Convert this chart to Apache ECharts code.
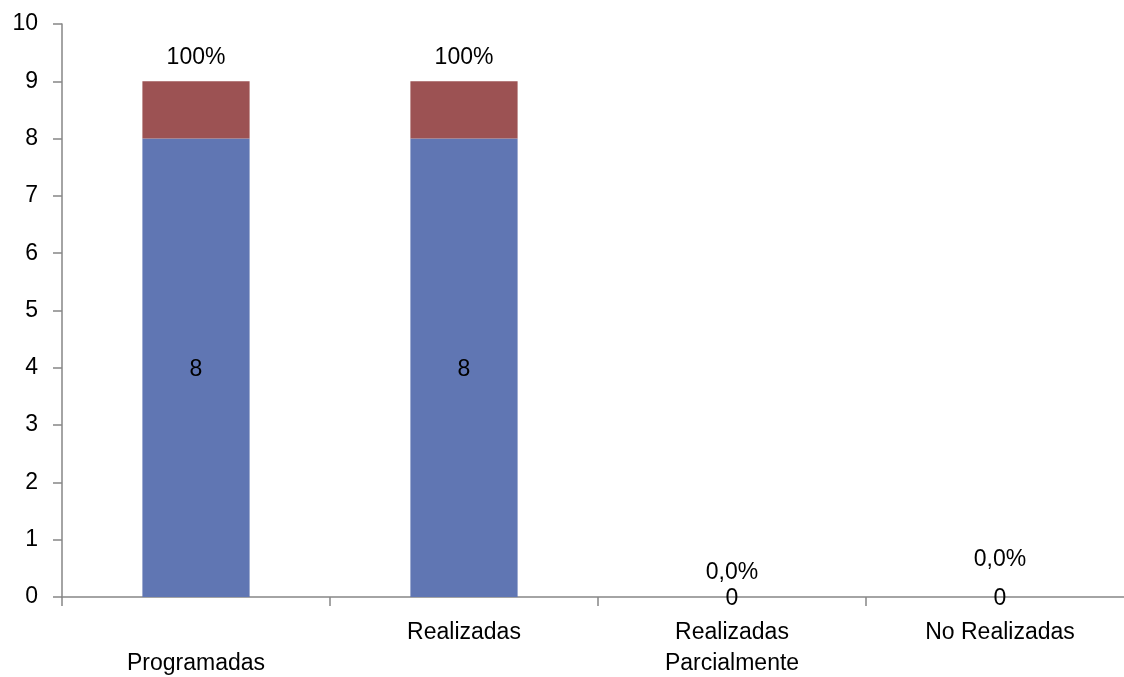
<!DOCTYPE html>
<html>
<head>
<meta charset="utf-8">
<script src="https://cdn.jsdelivr.net/npm/echarts@6/dist/echarts.min.js"></script>
<style>
  html, body { margin: 0; padding: 0; background: #fff; }
  #chart { width: 1124px; height: 677px; }
</style>
</head>
<body>
<div id="chart"></div>
<script>
// Activity counts per status
const categories = ['\nProgramadas', 'Realizadas', 'Realizadas\nParcialmente', 'No Realizadas'];
const counts = [8, 8, 0, 0];
const shareValues = [1, 1, 0, 0];
const shareLabels = ['100%', '100%', '0,0%', '0,0%'];
const yTicks = { min: 0, max: 10, interval: 1 };

// Label gap above the stack for each category
const shareLabelGap = [12, 12, 13, 26];

const FONT = 'Liberation Sans';
const FS = 23;

const chart = echarts.init(document.getElementById('chart'), null, { renderer: 'canvas' });

chart.setOption({
  animation: false,
  backgroundColor: '#ffffff',
  textStyle: { fontFamily: FONT },
  grid: { left: 62, top: 24, bottom: 80, right: -10, containLabel: false, outerBoundsMode: 'none' },
  xAxis: {
    type: 'category',
    data: categories,
    axisLine: { lineStyle: { color: '#868686', width: 1.5 } },
    axisTick: { show: true, length: 9, lineStyle: { color: '#868686', width: 1.5 } },
    axisLabel: {
      color: '#000', fontSize: FS, fontFamily: FONT, lineHeight: 31, margin: 20, interval: 0
    },
    splitLine: { show: false }
  },
  yAxis: {
    type: 'value',
    min: yTicks.min, max: yTicks.max, interval: yTicks.interval,
    axisLine: { show: true, lineStyle: { color: '#868686', width: 1.5 } },
    axisTick: { show: true, length: 9, lineStyle: { color: '#868686', width: 1.5 } },
    axisLabel: { color: '#000', fontSize: FS, fontFamily: FONT, margin: 24 },
    splitLine: { show: false }
  },
  series: [
    {
      name: 'Cantidad',
      type: 'bar',
      stack: 'total',
      barWidth: '40%',
      data: counts,
      itemStyle: { color: '#6076B3' },
      label: {
        show: true, position: 'inside', color: '#000',
        fontSize: FS, fontFamily: FONT, offset: [0, 2]
      }
    },
    {
      name: 'Porcentaje',
      type: 'bar',
      stack: 'total',
      barWidth: '40%',
      data: shareValues.map((v, i) => ({
        value: v,
        label: { distance: shareLabelGap[i] }
      })),
      itemStyle: { color: '#9C5253' },
      label: {
        show: true, position: 'top', color: '#000',
        fontSize: FS, fontFamily: FONT,
        formatter: p => shareLabels[p.dataIndex]
      }
    }
  ]
});
</script>
</body>
</html>
